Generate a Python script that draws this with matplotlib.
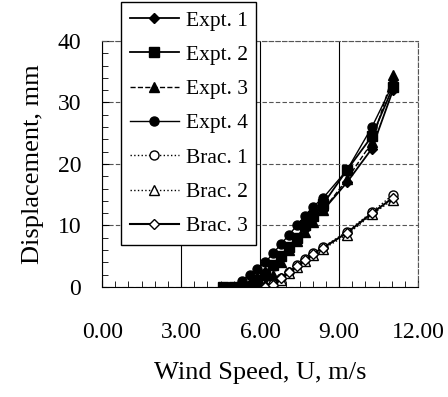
import matplotlib

matplotlib.use("Agg")
import matplotlib.pyplot as plt  # noqa: E402
from matplotlib.ticker import MultipleLocator  # noqa: E402

plt.rcParams["font.family"] = ["Liberation Serif", "DejaVu Serif"]

# wind speed (m/s) for the experiment runs
expt_x = [4.6, 5.0, 5.3, 5.6, 5.9, 6.2, 6.5, 6.8, 7.1, 7.4, 7.7, 8.0, 8.4, 9.3, 10.25, 11.05]
expt1_y = [0, 0, 0, 0.5, 1.5, 2.5, 3.5, 5, 6.5, 8, 9.5, 11, 12.5, 17, 22.5, 32]
expt2_y = [0, 0, 0, 0, 0.5, 2, 3.5, 5, 6.5, 8, 10, 11.5, 13.5, 19, 24.5, 32.5]
expt3_y = [0, 0, 0, 0, 0, 0.5, 2, 4, 6, 7.5, 9, 10.5, 12.5, 17.5, 23.5, 34.5]
expt4_y = [0, 0, 1, 2, 3, 4, 5.5, 7, 8.5, 10, 11.5, 13, 14.5, 19, 26, 33]

# bracket (predicted) curves
brac_x = [6.2, 6.5, 6.8, 7.1, 7.4, 7.7, 8.0, 8.4, 9.3, 10.25, 11.05]
brac1_y = [0, 0.5, 1.5, 2.5, 3.5, 4.5, 5.5, 6.5, 9, 12.2, 15]
brac2_y = [0, 0.3, 1.2, 2.2, 3.2, 4.2, 5.2, 6.2, 8.5, 11.8, 14.2]
brac3_y = [0, 0.4, 1.4, 2.4, 3.4, 4.4, 5.4, 6.4, 8.8, 12, 14.5]

x_ticks = [0, 3, 6, 9, 12]
x_labels = ["0.00", "3.00", "6.00", "9.00", "12.00"]
y_ticks = [0, 10, 20, 30, 40]

fig = plt.figure(figsize=(4.48, 3.97), dpi=100)
ax = fig.add_axes([0.228, 0.277, 0.705, 0.620])

ms = 6.5
ax.plot(expt_x, expt1_y, "-", color="k", lw=1.3, marker="D", ms=ms - 1, mfc="k", label="Expt. 1")
ax.plot(expt_x, expt2_y, "-", color="k", lw=1.3, marker="s", ms=ms, mfc="k", label="Expt. 2")
ax.plot(expt_x, expt3_y, "--", color="k", lw=1.0, marker="^", ms=ms, mfc="k", label="Expt. 3")
ax.plot(expt_x, expt4_y, "-", color="k", lw=1.0, marker="o", ms=ms, mfc="k", label="Expt. 4")
ax.plot(brac_x, brac1_y, ":", color="k", lw=1.0, marker="o", ms=ms, mfc="white", label="Brac. 1")
ax.plot(brac_x, brac2_y, ":", color="k", lw=1.0, marker="^", ms=ms, mfc="white", label="Brac. 2")
ax.plot(brac_x, brac3_y, "-", color="k", lw=1.5, marker="D", ms=ms - 1.5, mfc="white", label="Brac. 3")

ax.set_xlim(0, 12)
ax.set_ylim(0, 40)
ax.set_xticks(x_ticks)
ax.set_xticklabels(x_labels)
ax.set_yticks(y_ticks)
ax.xaxis.set_minor_locator(MultipleLocator(0.5))
ax.yaxis.set_minor_locator(MultipleLocator(2))
ax.tick_params(axis="x", which="both", direction="in", labelsize=17, pad=25)
ax.tick_params(axis="y", which="both", direction="in", labelsize=17, pad=15)
ax.tick_params(which="major", length=5)
ax.tick_params(which="minor", length=4)

ax.xaxis.grid(True, color="k", lw=0.8, ls="-")
ax.yaxis.grid(True, color="#555555", lw=0.8, ls=(0, (4, 2)))
for side in ["top", "right"]:
    ax.spines[side].set_linestyle((0, (4, 2)))
    ax.spines[side].set_color("#555555")

ax.set_xlabel("Wind Speed, U, m/s", fontsize=19, labelpad=14)
ax.set_ylabel("Displacement, mm", fontsize=19, labelpad=10)

leg = fig.legend(
    loc="upper left",
    bbox_to_anchor=(0.27, 0.995),
    borderaxespad=0,
    fontsize=15.5,
    frameon=True,
    fancybox=False,
    edgecolor="k",
    framealpha=1,
    handlelength=2.3,
    labelspacing=0.66,
    borderpad=0.4,
    handletextpad=0.3,
)
leg.get_frame().set_linewidth(1.0)

fig.savefig("out.png", dpi=100)
